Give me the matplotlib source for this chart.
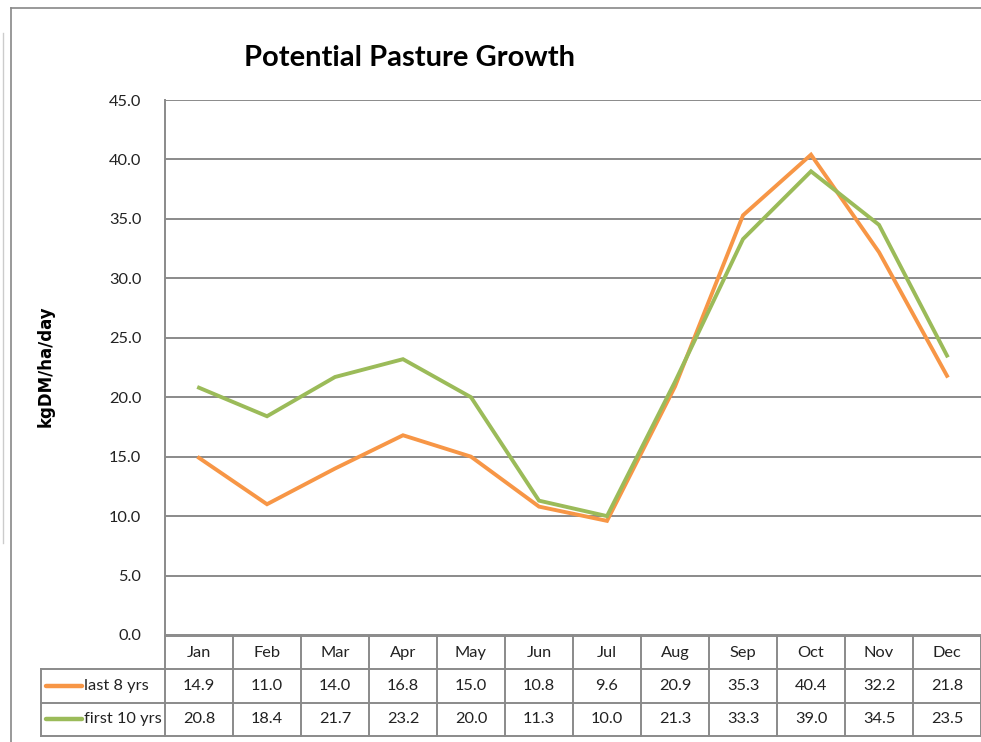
import numpy as np
import matplotlib.pyplot as plt
from matplotlib.lines import Line2D

months = ['Jan', 'Feb', 'Mar', 'Apr', 'May', 'Jun', 'Jul', 'Aug', 'Sep', 'Oct', 'Nov', 'Dec']
last8 = [14.9, 11.0, 14.0, 16.8, 15.0, 10.8, 9.6, 20.9, 35.3, 40.4, 32.2, 21.8]
first10 = [20.8, 18.4, 21.7, 23.2, 20.0, 11.3, 10.0, 21.3, 33.3, 39.0, 34.5, 23.5]
series_names = ['last 8 yrs', 'first 10 yrs']
yticks = np.arange(0, 45.1, 5)

W, H = 981, 742
orange = '#F79646'
green = '#9BBB59'
grid_c = '#8a8a8a'
txt_c = '#222222'
fs = 11.8
plt.rcParams['font.family'] = ['Lato', 'DejaVu Sans']

fig = plt.figure(figsize=(W / 100, H / 100), dpi=100)

def fx(px):
    return px / W

def fy(py):
    return 1 - py / H

# main plot area
left, right, top, bottom = 165, 981, 100, 635
ax = fig.add_axes([fx(left), fy(bottom), fx(right - left), fy(top) - fy(bottom)])
x = np.arange(len(months))
ax.plot(x, last8, color=orange, lw=2.8, solid_joinstyle='miter', zorder=3)
ax.plot(x, first10, color=green, lw=2.8, solid_joinstyle='miter', zorder=3)
ax.set_xlim(-0.5, 11.5)
ax.set_ylim(0, 45)
ax.set_yticks(yticks)
ax.set_yticklabels([f'{v:.1f}' for v in yticks], fontsize=fs, color=txt_c)
ax.tick_params(axis='y', length=0, pad=17)
ax.set_xticks([])
for v in yticks:
    ax.axhline(v, color=grid_c, lw=1.4, zorder=1)
for s in ['top', 'right', 'bottom']:
    ax.spines[s].set_visible(False)
ax.spines['left'].set_color(grid_c)
ax.spines['left'].set_linewidth(1.4)

# data table under the plot
tleft, ttop, tbottom = 41, 636, 736
lab_w = (left - tleft) / ((right - left) / 12)
tax = fig.add_axes([fx(tleft), fy(tbottom), fx(right - tleft), fy(ttop) - fy(tbottom)])
tax.set_xlim(-0.5 - lab_w, 11.5)
tax.set_ylim(3, 0)
tax.axis('off')
lkw = dict(color=grid_c, lw=1.4, clip_on=False)
tax.plot([-0.5, 11.5], [0, 0], **lkw)
for yy in [1, 2, 3]:
    tax.plot([-0.5 - lab_w, 11.5], [yy, yy], **lkw)
tax.plot([-0.5 - lab_w, -0.5 - lab_w], [1, 3], **lkw)
for i in range(13):
    tax.plot([i - 0.5, i - 0.5], [0, 3], **lkw)
for i, m in enumerate(months):
    tax.text(i, 0.5, m, ha='center', va='center', fontsize=fs, color=txt_c)
    tax.text(i, 1.5, f'{last8[i]:.1f}', ha='center', va='center', fontsize=fs, color=txt_c)
    tax.text(i, 2.5, f'{first10[i]:.1f}', ha='center', va='center', fontsize=fs, color=txt_c)
for r, (name, c) in enumerate(zip(series_names, [orange, green])):
    x0 = -0.5 - lab_w + 0.07
    tax.plot([x0, x0 + 0.54], [1.5 + r, 1.5 + r], color=c, lw=3.2, solid_capstyle='round')
    tax.text(x0 + 0.56, 1.5 + r, name, ha='left', va='center', fontsize=fs, color=txt_c)

# title and axis label
fig.text(fx(410), fy(58), 'Potential Pasture Growth', ha='center', va='center',
         fontsize=21, fontweight='bold')
fig.text(fx(46), fy(366), 'kgDM/ha/day', ha='center', va='center', rotation=90,
         fontsize=12, fontweight='bold', family='DejaVu Sans')

# chart frame edges
fig.add_artist(Line2D([fx(11), fx(11)], [fy(8), 0], color='#888888', lw=1.2))
fig.add_artist(Line2D([fx(11), 1], [fy(8), fy(8)], color='#888888', lw=1.2))
fig.add_artist(Line2D([fx(2.5), fx(2.5)], [fy(33), fy(543)], color='#cccccc', lw=1.0))

fig.savefig('out.png', dpi=100)
